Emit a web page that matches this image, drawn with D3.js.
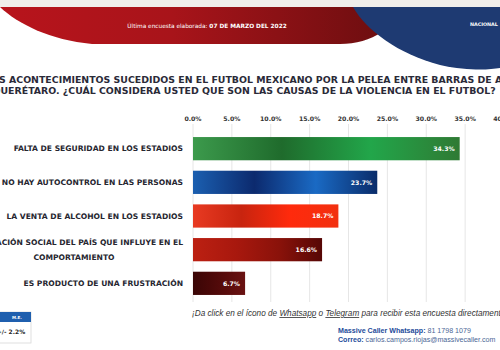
<!DOCTYPE html>
<html>
  <head>
    <meta charset="utf-8">
    <title>Causas de la violencia en el futbol</title>
    <script src="https://d3js.org/d3.v7.min.js"></script>
    <style>
      body, html {
        margin: 0;
        width: 100%;
        height: 100%;
        overflow: hidden;
        background: #fff;
      }
      svg { display: block; }
      .bold { font-family: 'DejaVu Sans', sans-serif; font-weight: 700; }
      .gridLine { stroke: #e6e6e6; stroke-width: 1; }
    </style>
  </head>
  <body>
    <svg id="chart" width="500" height="350"></svg>
    <script>
      const categories = [
        "FALTA DE SEGURIDAD EN LOS ESTADIOS",
        "NO HAY AUTOCONTROL EN LAS PERSONAS",
        "LA VENTA DE ALCOHOL EN LOS ESTADIOS",
        "LA SITUACIÓN SOCIAL DEL PAÍS QUE INFLUYE EN EL|COMPORTAMIENTO",
        "ES PRODUCTO DE UNA FRUSTRACIÓN"
      ];
      const values = [34.3, 23.7, 18.7, 16.6, 6.7];
      const tickValues = [0, 5, 10, 15, 20, 25, 30, 35, 40];
      // [hidden lead-in, rest of line] — the lead-in sits past the left edge as in the source image
      const titleLines = [
        ["ANTE LO", "ANTE LOS ACONTECIMIENTOS SUCEDIDOS EN EL FUTBOL MEXICANO POR LA PELEA ENTRE BARRAS DE ATLAS Y"],
        ["Q", "QUERÉTARO. ¿CUÁL CONSIDERA USTED QUE SON LAS CAUSAS DE LA VIOLENCIA EN EL FUTBOL?"]
      ];
      const barGradients = [
        ["#3c9a4c", "#1f6b2c", "#22a64a", "#2f7a34"],
        ["#1b5fb0", "#0c2a6e", "#1a6ac4", "#0a2c6a"],
        ["#e83a22", "#c8240f", "#ff2a0c", "#f2300f"],
        ["#bc2012", "#a8180e", "#8a120a", "#560706"],
        ["#3a0606", "#4a0808", "#5a0c0c", "#6a1212"]
      ];

      const svg = d3.select("#chart");
      const defs = svg.append("defs");

      // header band
      const redGrad = defs.append("linearGradient").attr("id", "redBand");
      redGrad.append("stop").attr("offset", "0%").attr("stop-color", "#b8141c");
      redGrad.append("stop").attr("offset", "45%").attr("stop-color", "#a8141a");
      redGrad.append("stop").attr("offset", "100%").attr("stop-color", "#6e0e10");

      svg.append("rect").attr("x", 0).attr("y", 0).attr("width", 500).attr("height", 7).attr("fill", "#f0eeeb");
      svg.append("path")
        .attr("d", "M0,7 C18,24 50,40 92,44 L340,44 C356,44 370,40 382,32 L382,7 Z")
        .attr("fill", "url(#redBand)");
      svg.append("path")
        .attr("d", "M353,7 C366,30 398,54 440,65 C468,71 488,70 500,68 L500,7 Z")
        .attr("fill", "#1e3a72");

      const header = svg.append("text")
        .attr("x", 207).attr("y", 28)
        .attr("text-anchor", "middle")
        .attr("fill", "#fff")
        .style("font-family", "'DejaVu Sans', sans-serif")
        .style("font-size", "5.8px");
      header.append("tspan").text("Última encuesta elaborada:  ");
      header.append("tspan").attr("font-weight", 700).text("07 DE MARZO DEL 2022");

      svg.append("text")
        .attr("class", "bold")
        .attr("x", 470).attr("y", 26)
        .attr("fill", "#fff")
        .style("font-size", "4.8px")
        .text("NACIONAL");

      // title
      const measure = svg.append("text").attr("class", "bold").style("font-size", "9.4px").attr("opacity", 0);
      titleLines.forEach((line, i) => {
        measure.text(line[0]);
        const lead = measure.node().getComputedTextLength();
        svg.append("text")
          .attr("class", "bold")
          .attr("x", -lead + (i === 0 ? -1 : 0.5))
          .attr("y", 82.5 + i * 11.5)
          .attr("fill", "#2a2a38")
          .style("font-size", "9.4px")
          .text(line[1]);
      });
      measure.remove();

      // scales
      const x = d3.scaleLinear().domain([0, 40]).range([193, 504]);
      const y = d3.scaleBand().domain(categories).range([132, 300]).paddingInner(0.31).paddingOuter(0.15);

      svg.selectAll(".gridLine")
        .data(tickValues)
        .join("line")
        .attr("class", "gridLine")
        .attr("x1", d => x(d)).attr("x2", d => x(d))
        .attr("y1", 124).attr("y2", 302);

      svg.selectAll(".tickLabel")
        .data(tickValues)
        .join("text")
        .attr("class", "bold tickLabel")
        .attr("x", d => x(d))
        .attr("y", 121)
        .attr("text-anchor", "middle")
        .attr("fill", "#333")
        .style("font-size", "6.2px")
        .text(d => d.toFixed(1) + "%");

      // gradients per bar
      barGradients.forEach((stops, i) => {
        const g = defs.append("linearGradient").attr("id", "bar" + i);
        stops.forEach((c, j) => {
          g.append("stop").attr("offset", (j / (stops.length - 1) * 100) + "%").attr("stop-color", c);
        });
      });

      const rows = svg.selectAll(".row")
        .data(categories)
        .join("g")
        .attr("class", "row");

      rows.append("rect")
        .attr("x", x(0))
        .attr("y", d => y(d))
        .attr("width", (d, i) => x(values[i]) - x(0))
        .attr("height", y.bandwidth())
        .attr("fill", (d, i) => `url(#bar${i})`);

      rows.append("text")
        .attr("class", "bold")
        .attr("x", (d, i) => x(values[i]) - 5)
        .attr("y", d => y(d) + y.bandwidth() / 2 + 2.2)
        .attr("text-anchor", "end")
        .attr("fill", "#fff")
        .style("font-size", "6.2px")
        .text((d, i) => values[i].toFixed(1) + "%");

      rows.each(function (d) {
        const parts = d.split("|");
        const t = d3.select(this).append("text")
          .attr("class", "bold")
          .attr("fill", "#262630")
          .style("font-size", "7.6px");
        const mid = y(d) + y.bandwidth() / 2;
        parts.forEach((p, k) => {
          t.append("tspan")
            .attr("x", k === 0 ? 183 : 74)
            .attr("text-anchor", k === 0 ? "end" : "middle")
            .attr("y", mid + 2.7 + (k - (parts.length - 1) / 2) * 15)
            .text(p);
        });
      });

      // footnote
      const foot = svg.append("text")
        .attr("x", 192).attr("y", 316)
        .attr("fill", "#333")
        .style("font-family", "'Liberation Sans', sans-serif")
        .style("font-style", "italic")
        .style("font-size", "8.2px");
      foot.append("tspan").text("¡Da click en el ícono de ");
      foot.append("tspan").attr("text-decoration", "underline").text("Whatsapp");
      foot.append("tspan").text(" o ");
      foot.append("tspan").attr("text-decoration", "underline").text("Telegram");
      foot.append("tspan").text(" para recibir esta encuesta directamente!");

      // M.E. box
      svg.append("rect").attr("x", -10).attr("y", 312).attr("width", 41).attr("height", 31)
        .attr("fill", "#fff").attr("stroke", "#d8d8d8").attr("stroke-width", 0.8);
      svg.append("rect").attr("x", -10).attr("y", 312).attr("width", 41).attr("height", 10).attr("fill", "#1f5fae");
      svg.append("text").attr("class", "bold").attr("x", 17).attr("y", 319).attr("text-anchor", "middle")
        .attr("fill", "#fff").style("font-size", "4px").text("M.E.");
      svg.append("text").attr("class", "bold").attr("x", 11).attr("y", 334).attr("text-anchor", "middle")
        .attr("fill", "#222").style("font-size", "6px").text("+/- 2.2%");

      // contact
      const contacts = [["Massive Caller Whatsapp: ", "81 1798 1079"], ["Correo: ", "carlos.campos.riojas@massivecaller.com"]];
      contacts.forEach((c, i) => {
        const t = svg.append("text")
          .attr("x", 338).attr("y", 333 + i * 8.5)
          .style("font-family", "'Liberation Sans', sans-serif")
          .style("font-size", "7.1px");
        t.append("tspan").attr("font-weight", 700).attr("fill", "#1d4b9a").text(c[0]);
        t.append("tspan").attr("fill", "#4b6796").text(c[1]);
      });
    </script>
  </body>
</html>
